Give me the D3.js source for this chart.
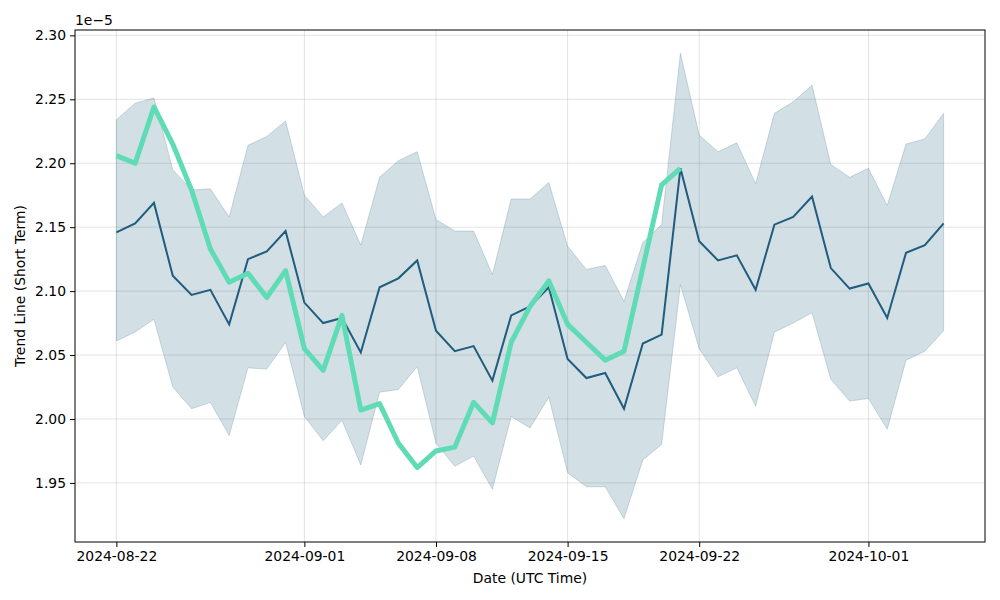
<!DOCTYPE html>
<html>
<head>
<meta charset="utf-8">
<script src="https://cdn.jsdelivr.net/npm/d3@7"></script>
<style>
  body { margin: 0; background: #fff; }
  svg { display: block; }
  text { font-family: "DejaVu Sans", sans-serif; }
</style>
</head>
<body>
<svg id="chart" width="1000" height="600"></svg>
<script>
// Data (values in units of 1e-5)
const startDate = "2024-08-22";
const forecast = [2.146, 2.153, 2.169, 2.112, 2.097, 2.101, 2.074, 2.125, 2.131, 2.147,
  2.091, 2.075, 2.079, 2.052, 2.103, 2.110, 2.124, 2.069, 2.053, 2.057,
  2.030, 2.081, 2.088, 2.103, 2.047, 2.032, 2.036, 2.008, 2.059, 2.066,
  2.196, 2.139, 2.124, 2.128, 2.101, 2.152, 2.158, 2.174, 2.118, 2.102,
  2.106, 2.079, 2.130, 2.136, 2.153];
const upper = [2.234, 2.247, 2.251, 2.195, 2.179, 2.180, 2.158, 2.214, 2.221, 2.233,
  2.175, 2.158, 2.169, 2.136, 2.189, 2.202, 2.209, 2.156, 2.147, 2.147,
  2.113, 2.172, 2.172, 2.185, 2.135, 2.117, 2.120, 2.092, 2.138, 2.152,
  2.286, 2.222, 2.209, 2.216, 2.184, 2.239, 2.248, 2.261, 2.199, 2.189,
  2.196, 2.167, 2.215, 2.219, 2.239];
const lower = [2.061, 2.068, 2.078, 2.025, 2.008, 2.013, 1.987, 2.040, 2.039, 2.060,
  2.002, 1.983, 1.999, 1.964, 2.021, 2.023, 2.041, 1.981, 1.963, 1.971,
  1.945, 2.002, 1.993, 2.017, 1.958, 1.947, 1.947, 1.922, 1.968, 1.980,
  2.105, 2.055, 2.033, 2.040, 2.010, 2.068, 2.075, 2.083, 2.031, 2.014,
  2.016, 1.992, 2.046, 2.053, 2.069];
const actual = [2.206, 2.200, 2.244, 2.215, 2.179, 2.133, 2.107, 2.114, 2.095, 2.116,
  2.055, 2.038, 2.081, 2.007, 2.012, 1.981, 1.962, 1.975, 1.978, 2.013,
  1.997, 2.060, 2.088, 2.108, 2.074, 2.060, 2.046, 2.053, 2.118, 2.183,
  2.196];
const xTickLabels = ["2024-08-22", "2024-09-01", "2024-09-08", "2024-09-15", "2024-09-22", "2024-10-01"];
const yTickValues = [1.95, 2.00, 2.05, 2.10, 2.15, 2.20, 2.25, 2.30];

const day0 = new Date(startDate + "T00:00:00Z");
const dateAt = i => new Date(day0.getTime() + i * 86400000);
const rows = forecast.map((v, i) => ({ d: dateAt(i), f: v, u: upper[i], l: lower[i] }));
const actRows = actual.map((v, i) => ({ d: dateAt(i), a: v }));

const svg = d3.select("#chart");
const L = 75, R = 985, T = 30, B = 542;

const n = forecast.length - 1;
const pad = n * 0.05;
const x = d3.scaleUtc()
  .domain([new Date(day0.getTime() - pad * 86400000), new Date(day0.getTime() + (n + pad) * 86400000)])
  .range([L, R]);
const allV = upper.concat(lower, forecast, actual);
const vmin = d3.min(allV), vmax = d3.max(allV), vp = (vmax - vmin) * 0.05;
const y = d3.scaleLinear().domain([vmin - vp, vmax + vp]).range([B, T]);

const xTicks = xTickLabels.map(s => new Date(s + "T00:00:00Z"));

// grid
const grid = svg.append("g");
grid.selectAll("line.gx").data(xTicks).join("line")
  .attr("x1", d => x(d)).attr("x2", d => x(d)).attr("y1", T).attr("y2", B)
  .attr("stroke", "#b0b0b0").attr("stroke-opacity", 0.35).attr("stroke-width", 1);
grid.selectAll("line.gy").data(yTickValues).join("line")
  .attr("x1", L).attr("x2", R).attr("y1", d => y(d)).attr("y2", d => y(d))
  .attr("stroke", "#b0b0b0").attr("stroke-opacity", 0.35).attr("stroke-width", 1);

// band
const area = d3.area().x(d => x(d.d)).y0(d => y(d.l)).y1(d => y(d.u));
svg.append("path").datum(rows).attr("d", area)
  .attr("fill", "rgba(31,94,127,0.2)")
  .attr("stroke", "rgba(31,94,127,0.2)").attr("stroke-width", 1);

// forecast line
svg.append("path").datum(rows)
  .attr("d", d3.line().x(d => x(d.d)).y(d => y(d.f)))
  .attr("fill", "none").attr("stroke", "#1f5c7e").attr("stroke-width", 2);

// actual line
svg.append("path").datum(actRows)
  .attr("d", d3.line().x(d => x(d.d)).y(d => y(d.a)))
  .attr("fill", "none").attr("stroke", "#5fdcb5").attr("stroke-width", 5)
  .attr("stroke-linejoin", "round").attr("stroke-linecap", "butt");

// axes
const xAxis = d3.axisBottom(x).tickValues(xTicks).tickFormat(d3.utcFormat("%Y-%m-%d")).tickSizeOuter(0).tickSize(5).tickPadding(4);
const gx = svg.append("g").attr("transform", `translate(0,${B})`).call(xAxis);
const yAxis = d3.axisLeft(y).tickValues(yTickValues).tickFormat(d3.format(".2f")).tickSizeOuter(0).tickSize(5).tickPadding(4);
const gy = svg.append("g").attr("transform", `translate(${L},0)`).call(yAxis);
[gx, gy].forEach(g => {
  g.select(".domain").remove();
  g.selectAll("text").attr("font-size", 13.9).attr("fill", "#000").attr("font-family", "DejaVu Sans");
  g.selectAll("line").attr("stroke", "#000").attr("stroke-width", 1);
});

// frame
svg.append("rect").attr("x", L).attr("y", T).attr("width", R - L).attr("height", B - T)
  .attr("fill", "none").attr("stroke", "#000").attr("stroke-width", 1);

// offset text
svg.append("text").attr("x", L).attr("y", 25).attr("font-size", 13.9).text("1e\u22125");

// labels
svg.append("text").attr("x", (L + R) / 2).attr("y", 583).attr("text-anchor", "middle")
  .attr("font-size", 13.9).text("Date (UTC Time)");
svg.append("text").attr("transform", `translate(25,${(T + B) / 2}) rotate(-90)`)
  .attr("text-anchor", "middle").attr("font-size", 13.9).text("Trend Line (Short Term)");
</script>
</body>
</html>
